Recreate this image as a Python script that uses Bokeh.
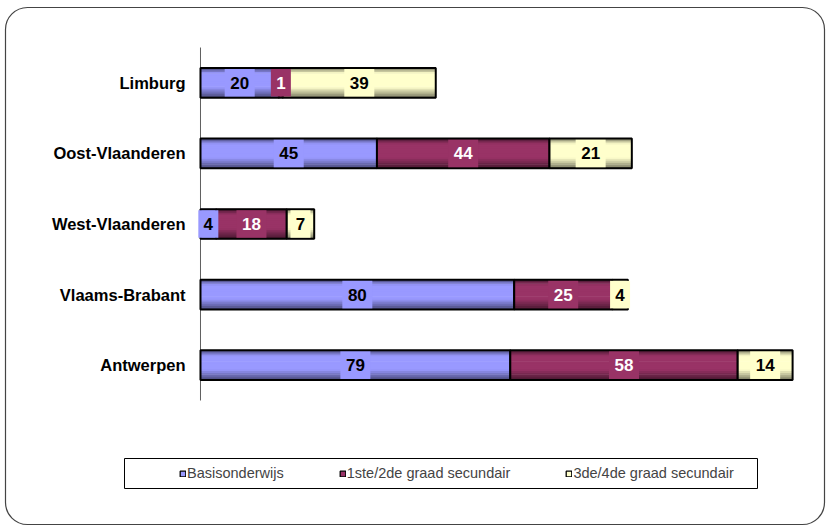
from bokeh.plotting import figure
from bokeh.models import ColumnDataSource, Range1d, Legend, LegendItem, BoxAnnotation
from bokeh.transform import dodge
from bokeh.core.properties import value
from bokeh.embed import file_html
from bokeh.resources import INLINE

# ---- data ----
regions = ["Limburg", "Oost-Vlaanderen", "West-Vlaanderen", "Vlaams-Brabant", "Antwerpen"]
series_names = ["Basisonderwijs", "1ste/2de graad secundair", "3de/4de graad secundair"]
basisonderwijs = [20, 45, 4, 80, 79]
graad_1_2 = [1, 44, 18, 25, 58]
graad_3_4 = [39, 21, 7, 4, 14]

series_values = [basisonderwijs, graad_1_2, graad_3_4]
base_colors = ["#9999FF", "#993366", "#FFFFCC"]
label_colors = ["#000000", "#FFFFFF", "#000000"]

FONT = "Liberation Sans"
W, H = 827, 527

# category positions: first region on top
ypos = [len(regions) - 1 - i for i in range(len(regions))]

p = figure(width=W, height=H, output_backend="svg", toolbar_location=None,
           x_range=Range1d(-51.0, 159.9), y_range=Range1d(-2.299, 5.166),
           x_axis_location=None, y_axis_location=None,
           min_border=0, min_border_left=0, min_border_right=0,
           min_border_top=0, min_border_bottom=0)
p.outline_line_color = None
p.grid.visible = False
p.background_fill_color = "white"
p.border_fill_color = "white"

# category axis line and labels
cat_src = ColumnDataSource(dict(cat=regions, y=ypos, x=[0] * len(regions)))
p.segment(x0=0, y0=min(ypos) - 0.5, x1=0, y1=max(ypos) + 0.5,
          line_color="#606060", line_width=1)
p.text(x="x", y="y", text="cat", source=cat_src, x_offset=-15,
       text_font=value(FONT), text_font_size="16.5px", text_font_style="bold",
       text_align="right", text_baseline="middle", text_color="#000000")


def shade(hexc, f):
    r = int(hexc[1:3], 16); g = int(hexc[3:5], 16); b = int(hexc[5:7], 16)
    return "#%02x%02x%02x" % (int(r * f), int(g * f), int(b * f))


def profile(t):
    # t: 0 bottom .. 1 top
    if t < 0.35:
        return 0.5 + 0.5 * (t / 0.35)
    if t > 0.85:
        return 1.0 - 0.4 * ((t - 0.85) / 0.15)
    return 1.0


BAR_H = 0.42
N = 16
lefts = [0] * len(regions)
legend_items = []
sources = []
for si, vals in enumerate(series_values):
    rights = [l + v for l, v in zip(lefts, vals)]
    mids = [(l + r) / 2 for l, r in zip(lefts, rights)]
    labels = [str(v) for v in vals]
    src = ColumnDataSource(dict(y=ypos, left=lefts, right=rights, mid=mids, lbl=labels,
                                boxw=[10 + 10 * len(s) for s in labels]))
    sources.append(src)
    for k in range(N):
        t = k / (N - 1)
        off = -BAR_H / 2 + (k + 0.5) * BAR_H / N
        p.hbar(y=dodge("y", off), left="left", right="right",
               height=BAR_H / N * 1.35, fill_color=shade(base_colors[si], profile(t)),
               line_color=None, source=src)
    p.hbar(y="y", left="left", right="right", height=BAR_H, fill_color=None,
           line_color="black", line_width=2, source=src)
    # legend swatch renderer (not drawn in the plot, only used by the legend)
    swatch = p.hbar(y="y", left="left", right="right", height=BAR_H,
                    fill_color=base_colors[si], line_color="black", line_width=1.3,
                    source=src, visible=False)
    legend_items.append(LegendItem(label=series_names[si], renderers=[swatch]))
    lefts = rights

for si, src in enumerate(sources):
    p.rect(x="mid", y="y", width="boxw", width_units="screen", height=BAR_H - 0.03,
           fill_color=base_colors[si], line_color=None, source=src)
    p.text(x="mid", y="y", text="lbl", source=src,
           text_font=value(FONT), text_font_size="17px", text_font_style="bold",
           text_align="center", text_baseline="middle", text_color=label_colors[si])

legend = Legend(items=legend_items, orientation="horizontal", location=(179, 46),
                border_line_color=None, background_fill_alpha=0,
                inactive_fill_alpha=0,
                glyph_width=7, glyph_height=7, label_standoff=1, spacing=55,
                padding=6, label_text_font=FONT, label_text_font_size="14.5px",
                label_height=16, margin=0, click_policy="none")
p.add_layout(legend, "center")

# legend frame
p.add_layout(BoxAnnotation(left=124, right=757, top=458, bottom=488,
                           left_units="canvas", right_units="canvas",
                           top_units="canvas", bottom_units="canvas",
                           fill_alpha=0, line_color="black", line_width=1, line_alpha=1))
# outer rounded frame
p.add_layout(BoxAnnotation(left=5, right=824, top=7, bottom=524,
                           left_units="canvas", right_units="canvas",
                           top_units="canvas", bottom_units="canvas",
                           fill_alpha=0, line_color="#444444", line_width=1.2, line_alpha=1,
                           border_radius=22))

open("out.html", "w").write(file_html(p, INLINE))
